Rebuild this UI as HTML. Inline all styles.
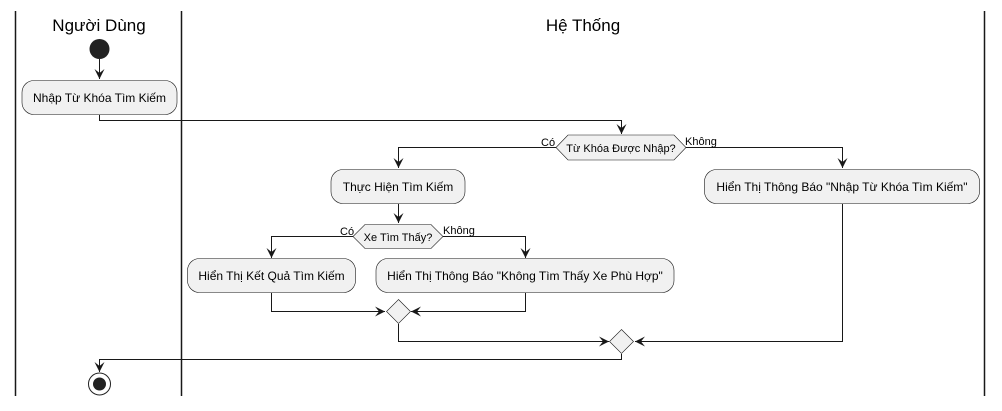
<!DOCTYPE html>
<html><head><meta charset="utf-8"><style>
html,body{margin:0;padding:0;background:#fff;}
svg text{font-family:"Liberation Sans","DejaVu Sans",sans-serif;}
</style></head><body>
<svg width="1002" height="406" viewBox="0 0 1002 406" xmlns="http://www.w3.org/2000/svg">
<defs>
<marker id="a" viewBox="0 0 12 12" refX="10" refY="6" markerWidth="12" markerHeight="12" markerUnits="userSpaceOnUse" orient="auto">
<path d="M0,1 L10,6 L0,11 L4,6 Z" fill="#181818"/>
</marker>
</defs>
<g stroke="#181818" stroke-width="1.5">
<line x1="15.5" y1="11" x2="15.5" y2="396"/>
<line x1="181.5" y1="11" x2="181.5" y2="396"/>
<line x1="984.5" y1="11" x2="984.5" y2="396"/>
</g>
<text x="99" y="31" font-size="17" text-anchor="middle" fill="#000">Người Dùng</text>
<text x="583" y="31" font-size="17" text-anchor="middle" fill="#000">Hệ Thống</text>

<g fill="none" stroke="#181818" stroke-width="1" marker-end="url(#a)">
<path d="M99.5,59 V79"/>
<path d="M99.5,115 V120.5 H621.5 V134"/>
<path d="M556,147.5 H398.5 V168"/>
<path d="M686,147.5 H842.5 V168"/>
<path d="M398.5,204 V223"/>
<path d="M353,236.5 H271.5 V258"/>
<path d="M443,236.5 H525.5 V258"/>
<path d="M271.5,293 V311.5 H385"/>
<path d="M525.5,293 V311.5 H411"/>
<path d="M398.5,324 V341.5 H609"/>
<path d="M842.5,204 V341.5 H635"/>
<path d="M621.5,354 V359.5 H99.5 V372"/>
</g>

<circle cx="99.5" cy="49" r="10" fill="#222"/>
<circle cx="99.5" cy="384" r="11" fill="none" stroke="#222" stroke-width="1"/>
<circle cx="99.5" cy="384" r="6.5" fill="#222"/>

<g fill="#f1f1f1" stroke="#181818" stroke-width="0.6">
<rect x="22" y="80.5" width="155" height="34" rx="12"/>
<rect x="331" y="169.5" width="134" height="34" rx="12"/>
<rect x="704.5" y="169.5" width="275" height="34" rx="12"/>
<rect x="187.5" y="258.5" width="168" height="34" rx="12"/>
<rect x="376" y="258.5" width="298" height="34" rx="12"/>
<polygon points="556,147.5 568,135 674,135 686,147.5 674,160 568,160"/>
<polygon points="353,236.5 365,224.5 431,224.5 443,236.5 431,248.5 365,248.5"/>
<polygon points="398.5,299.5 410.5,311.5 398.5,323.5 386.5,311.5"/>
<polygon points="621.5,329.5 633.5,341.5 621.5,353.5 609.5,341.5"/>
</g>

<g font-size="12" fill="#000" text-anchor="middle">
<text x="99.5" y="102">Nhập Từ Khóa Tìm Kiếm</text>
<text x="398" y="191">Thực Hiện Tìm Kiếm</text>
<text x="842" y="191">Hiển Thị Thông Báo "Nhập Từ Khóa Tìm Kiếm"</text>
<text x="271.5" y="280">Hiển Thị Kết Quả Tìm Kiếm</text>
<text x="525" y="280">Hiển Thị Thông Báo "Không Tìm Thấy Xe Phù Hợp"</text>
</g>
<g font-size="11" fill="#000">
<text x="621" y="152" text-anchor="middle">Từ Khóa Được Nhập?</text>
<text x="398" y="241" text-anchor="middle">Xe Tìm Thấy?</text>
<text x="541" y="146">Có</text>
<text x="685" y="145">Không</text>
<text x="340" y="235">Có</text>
<text x="443" y="234">Không</text>
</g>
</svg>
</body></html>
